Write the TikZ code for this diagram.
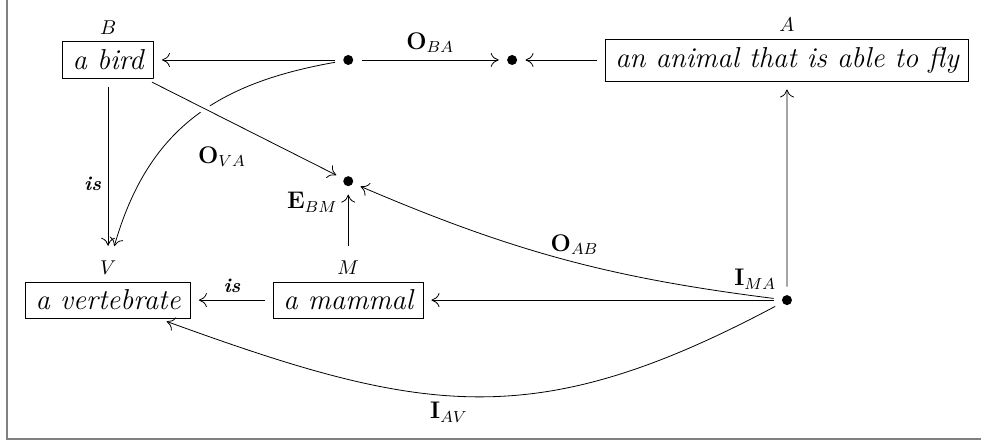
\documentclass[tikz,border=0pt]{standalone}
\usepackage{amsmath}
\usepackage{tikz}
\usetikzlibrary{arrows.meta,positioning}

\begin{document}
\begin{tikzpicture}[
  on grid,
  term/.style={draw,font=\Large\itshape,inner ysep=4pt,inner xsep=5pt},
  dot/.style={circle,fill,inner sep=0pt,minimum size=5pt},
  arr/.style={-{To[length=4pt,width=7pt]},shorten >=4pt,shorten <=4pt},
  over/.style={preaction={draw=white,line width=5pt,-}},
  rel/.style={font=\large}
]
\useasboundingbox (-1.9,1.054) rectangle (15.34,-6.748);
\draw[gray,line width=1pt] (-1.775,1.054) -- (-1.775,-6.66) -- (15.34,-6.66);

% terms and points
\node[term,label={[name=Bl]above:$B$}] (bird) {a bird};
\node[dot,right=4.22cm of bird] (d1) {};
\node[dot,right=2.88cm of d1] (d2) {};
\node[term,right=4.83cm of d2,label={[name=Al]above:$A$}] (anim) {an animal that is able to fly};
\node[dot,below=2.13cm of d1,label={[rel]below left:$\mathbf{E}_{BM}$}] (e) {};
\node[term,below=2.09cm of e,label={[name=Ml]above:$M$}] (mam) {a mammal};
\node[term,left=4.22cm of mam,label={[name=Vl]above:$V$}] (vert) {a vertebrate};
\node[dot,right=7.71cm of mam,label={[rel]above left:$\mathbf{I}_{MA}$}] (i) {};

% connectors
\draw[arr] (d1) -- (bird);
\draw[arr] (d1) -- node[rel,above]{$\mathbf{O}_{BA}$} (d2);
\draw[arr] (anim) -- (d2);
\draw[arr] (bird) -- node[left,pos=0.6]{\textbf{\itshape is}} (Vl);
\draw[arr] (d1) to[out=190,in=74,looseness=1.1] node[rel,pos=0.68,anchor=west,xshift=17pt]{$\mathbf{O}_{VA}$} (Vl);
\draw[arr,over] (bird) -- (e);
\draw[arr] (Ml) -- (e);
\draw[arr] (i) -- (anim);
\draw[arr] (i) -- (mam);
\draw[arr] (mam) -- node[above]{\textbf{\itshape is}} (vert);
\draw[arr] (i) to[bend left=8] node[rel,above,pos=0.47]{$\mathbf{O}_{AB}$} (e);
\draw[arr] (i) to[out=208,in=-20,looseness=1.15] node[rel,below,pos=0.55]{$\mathbf{I}_{AV}$} (vert);
\end{tikzpicture}
\end{document}
